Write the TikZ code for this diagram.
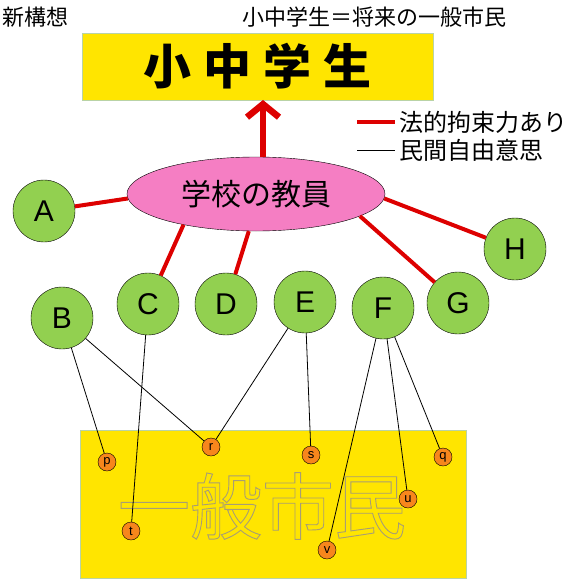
\documentclass[tikz,border=0pt]{standalone}
\usepackage{fontspec}
\setmainfont{Liberation Sans}
\newfontfamily\jp{Noto Sans CJK JP}
\usepackage{tikz}
\usetikzlibrary{shapes.geometric,arrows.meta}

\definecolor{boxyellow}{HTML}{FFE500}
\definecolor{boxedge}{HTML}{B9D3A6}
\definecolor{leafgreen}{HTML}{92D050}
\definecolor{teacherpink}{HTML}{F57EC3}
\definecolor{dotorange}{HTML}{F7861C}
\definecolor{lawred}{HTML}{DD0000}

\newcommand\outlinetext[1]{\special{pdf:code 1 Tr 0.9 w 0.66 0.62 0.45 RG}#1\special{pdf:code 0 Tr 0 0 0 RG}}

\begin{document}
\begin{tikzpicture}[x=1pt,y=-1pt,
	person/.style={circle,draw,fill=leafgreen,minimum size=62pt,inner sep=0pt,font=\fontsize{30}{30}\selectfont},
	citizen/.style={circle,draw,fill=dotorange,minimum size=18pt,inner sep=0pt,font=\fontsize{13}{13}\selectfont},
	legal/.style={draw=lawred,line width=4pt},
	free/.style={draw=black,line width=0.8pt}]
		\useasboundingbox (0,0) rectangle (576,580);
		\node[anchor=west,inner sep=0pt,font=\jp\fontsize{22}{22}\selectfont] (plan) at (2,17) {新構想};
		\node[inner sep=0pt,font=\jp\fontsize{22}{22}\selectfont] (note) at (374,17) {小中学生＝将来の一般市民};
		\node[draw=boxedge,fill=boxyellow,minimum width=351pt,minimum height=67pt,inner sep=0pt,
			font=\jp\bfseries\fontsize{48}{48}\selectfont] (pupils) at (257.5,66.5) {小\hspace{12pt}中\hspace{12pt}学\hspace{12pt}生};
		\node[draw=boxedge,fill=boxyellow,minimum width=386pt,minimum height=148pt,inner sep=0pt] (public) at (273,504) {};
		\node[inner sep=0pt,font=\jp\fontsize{72}{72}\selectfont] (publictext) at (262,506) {\outlinetext{一般市民}};
		\node[ellipse,draw,fill=teacherpink,minimum width=258pt,minimum height=74pt,inner sep=0pt,
			font=\jp\fontsize{30}{30}\selectfont] (teacher) at (256,194) {学校の教員};
		\coordinate (arrowfoot) at (263,157);
		\coordinate (arrowtip) at (263,100);
		\draw[draw=lawred,line width=6.5pt,-{Straight Barb[length=13pt,width=32pt,line join=miter]}] (arrowfoot) -- (arrowtip);
		\coordinate (lawa) at (357,122);
		\coordinate (lawb) at (395,122);
		\coordinate (freea) at (357,150);
		\coordinate (freeb) at (395,150);
		\draw[legal] (lawa) -- (lawb);
		\draw[free] (freea) -- (freeb);
		\node[anchor=west,inner sep=0pt,font=\jp\fontsize{24}{24}\selectfont] (lawtext) at (399,122) {法的拘束力あり};
		\node[anchor=west,inner sep=0pt,font=\jp\fontsize{24}{24}\selectfont] (freetext) at (399,150) {民間自由意思};
		\node[person] (A) at (44,211) {A};
		\node[person] (B) at (62,318) {B};
		\node[person] (C) at (148,304) {C};
		\node[person] (D) at (226,304) {D};
		\node[person] (E) at (305,302) {E};
		\node[person] (F) at (383,308) {F};
		\node[person] (G) at (458,303) {G};
		\node[person] (H) at (515,249) {H};
		\node[citizen] (p) at (107,462) {p};
		\node[citizen] (r) at (211,447) {r};
		\node[citizen] (s) at (311,455) {s};
		\node[citizen] (q) at (443,457) {q};
		\node[citizen] (u) at (408,499) {u};
		\node[citizen] (t) at (131,531) {t};
		\node[citizen] (v) at (327,550) {v};
		\draw[legal] (A) -- (teacher.182.7);
		\draw[legal] (C) -- (teacher.203);
		\draw[legal] (D) -- (teacher.259);
		\draw[legal] (G) -- (teacher.348);
		\draw[legal] (H) -- (teacher.358);
		\draw[free] (B) -- (p);
		\draw[free] (B) -- (r);
		\draw[free] (C) -- (t);
		\draw[free] (E) -- (r);
		\draw[free] (E) -- (s);
		\draw[free] (F) -- (v);
		\draw[free] (F) -- (u);
		\draw[free] (F) -- (q);
\end{tikzpicture}
\end{document}
